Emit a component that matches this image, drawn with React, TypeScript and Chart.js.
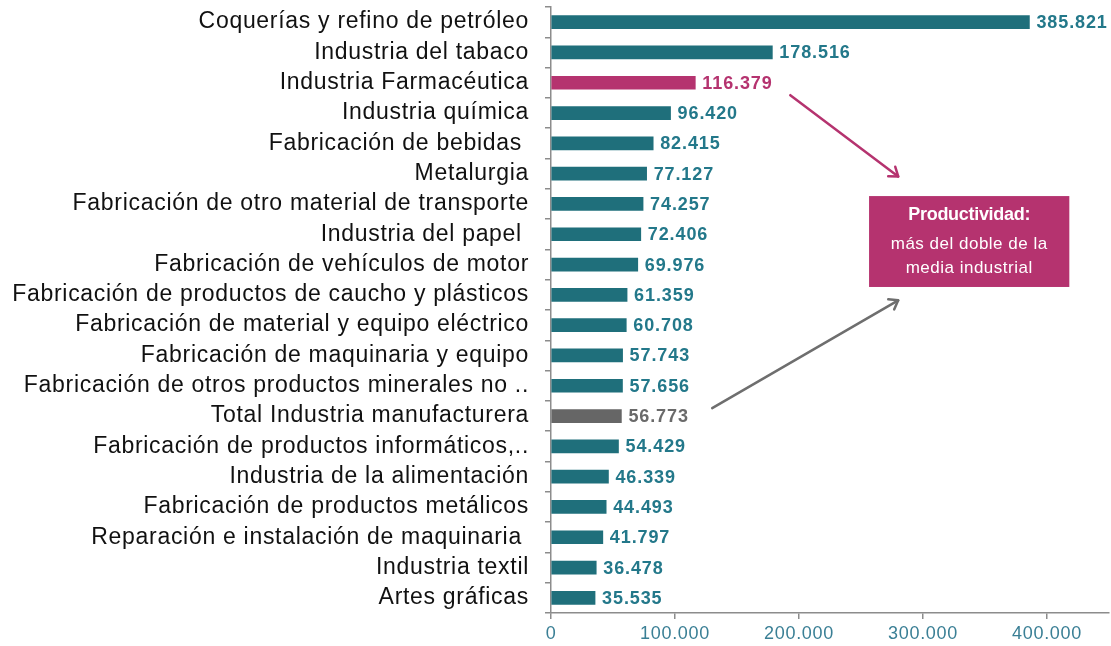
import React, { useEffect, useRef } from "react";
import { Chart, registerables } from "chart.js";

Chart.register(...registerables);

const categories = [
  "Coquerías y refino de petróleo",
  "Industria del tabaco",
  "Industria Farmacéutica",
  "Industria química",
  "Fabricación de bebidas ",
  "Metalurgia",
  "Fabricación de otro material de transporte",
  "Industria del papel ",
  "Fabricación de vehículos de motor",
  "Fabricación de productos de caucho y plásticos",
  "Fabricación de material y equipo eléctrico",
  "Fabricación de maquinaria y equipo",
  "Fabricación de otros productos minerales no ..",
  "Total Industria manufacturera",
  "Fabricación de productos informáticos,..",
  "Industria de la alimentación",
  "Fabricación de productos metálicos",
  "Reparación e instalación de maquinaria ",
  "Industria textil",
  "Artes gráficas",
];

const values = [
  385821, 178516, 116379, 96420, 82415, 77127, 74257, 72406, 69976, 61359,
  60708, 57743, 57656, 56773, 54429, 46339, 44493, 41797, 36478, 35535,
];

const xTicks = [0, 100000, 200000, 300000, 400000];

const TEAL = "#1F6F7B";
const TEAL_TEXT = "#23788A";
const PINK = "#B5336F";
const GREY = "#666666";

const barColors = categories.map((c) =>
  c === "Industria Farmacéutica" ? PINK : c.startsWith("Total") ? GREY : TEAL
);
const labelColors = categories.map((c) =>
  c === "Industria Farmacéutica" ? PINK : c.startsWith("Total") ? "#6A6A6A" : TEAL_TEXT
);

const fmt = (v: number) => Math.round(v).toString().replace(/\B(?=(\d{3})+(?!\d))/g, ".");

// annotation anchors (value space: x in data units, y in category index)
const boxAnchor = { x0: 256500, x1: 418000, y0: 5.74, y1: 8.74 };
const boxLines = ["Productividad:", "más del doble de la", "media industrial"];
const arrows = [
  { color: PINK, from: [193000, 2.41], to: [280000, 5.09] },
  { color: "#6E6E6E", from: [130000, 12.74], to: [280000, 9.18] },
];

const annotationPlugin = {
  id: "annot",
  beforeDraw(chart: any) {
    (chart.ctx as any).letterSpacing = "0.7px";
  },
  afterDatasetsDraw(chart: any) {
    const ctx = chart.ctx;
    const xs = chart.scales.x;
    const ys = chart.scales.y;
    const meta = chart.getDatasetMeta(0);
    ctx.save();
    (ctx as any).letterSpacing = "0.9px";
    ctx.font = "bold 18px 'Liberation Sans', Arial, sans-serif";
    ctx.textBaseline = "middle";
    ctx.textAlign = "left";
    meta.data.forEach((bar: any, i: number) => {
      ctx.fillStyle = labelColors[i];
      ctx.fillText(fmt(values[i]), bar.x + 7, bar.y + 1);
    });

    // box
    const bx0 = xs.getPixelForValue(boxAnchor.x0);
    const bx1 = xs.getPixelForValue(boxAnchor.x1);
    const by0 = ys.getPixelForValue(boxAnchor.y0);
    const by1 = ys.getPixelForValue(boxAnchor.y1);
    ctx.fillStyle = PINK;
    ctx.fillRect(bx0, by0, bx1 - bx0, by1 - by0);
    ctx.fillStyle = "#FFFFFF";
    ctx.textAlign = "center";
    const cx = (bx0 + bx1) / 2;
    (ctx as any).letterSpacing = "-0.3px";
    ctx.font = "bold 18px 'Liberation Sans', Arial, sans-serif";
    ctx.fillText(boxLines[0], cx, by0 + 19);
    ctx.font = "17px 'Liberation Sans', Arial, sans-serif";
    (ctx as any).letterSpacing = "0.5px";
    ctx.fillText(boxLines[1], cx, by0 + 48);
    ctx.fillText(boxLines[2], cx, by0 + 72);

    // arrows
    arrows.forEach((a) => {
      const x0 = xs.getPixelForValue(a.from[0]);
      const y0 = ys.getPixelForValue(a.from[1]);
      const x1 = xs.getPixelForValue(a.to[0]);
      const y1 = ys.getPixelForValue(a.to[1]);
      ctx.strokeStyle = a.color;
      ctx.lineWidth = 2.5;
      ctx.lineCap = "round";
      ctx.lineJoin = "round";
      ctx.beginPath();
      ctx.moveTo(x0, y0);
      ctx.lineTo(x1, y1);
      ctx.stroke();
      const ang = Math.atan2(y1 - y0, x1 - x0);
      const L = 10;
      const spread = Math.PI / 5;
      ctx.beginPath();
      ctx.moveTo(x1 - L * Math.cos(ang - spread), y1 - L * Math.sin(ang - spread));
      ctx.lineTo(x1, y1);
      ctx.lineTo(x1 - L * Math.cos(ang + spread), y1 - L * Math.sin(ang + spread));
      ctx.stroke();
    });
    ctx.restore();
  },
};

export default function App() {
  const ref = useRef<HTMLCanvasElement | null>(null);
  useEffect(() => {
    if (!ref.current) return;
    const chart = new Chart(ref.current, {
      type: "bar",
      data: {
        labels: categories,
        datasets: [
          {
            data: values,
            backgroundColor: barColors,
            barThickness: 13,
          },
        ],
      },
      plugins: [annotationPlugin],
      options: {
        indexAxis: "y",
        animation: false,
        responsive: false,
        maintainAspectRatio: false,
        layout: { padding: { top: 7, right: 2, left: 0, bottom: 0 } },
        plugins: { legend: { display: false }, tooltip: { enabled: false } },
        scales: {
          x: {
            type: "linear",
            min: 0,
            max: 450000,
            afterBuildTicks: (scale: any) => {
              scale.ticks = xTicks.map((v) => ({ value: v }));
            },
            afterFit: (scale: any) => {
              scale.height = 33;
              scale.paddingLeft = 0;
              scale.paddingRight = 0;
            },
            grid: { drawOnChartArea: false, tickLength: 6, color: "#8C8C8C", lineWidth: 1.5 },
            border: { color: "#8C8C8C", width: 1.5 },
            ticks: {
              color: "#3A7F95",
              font: { family: "'Liberation Sans', Arial, sans-serif", size: 18 },
              padding: 4,
              maxRotation: 0,
              callback: (v: any) => fmt(Number(v)),
            },
          },
          y: {
            type: "category",
            afterFit: (scale: any) => {
              scale.width = 551;
              scale.paddingTop = 0;
              scale.paddingBottom = 0;
            },
            grid: { offset: true, drawOnChartArea: false, tickLength: 6, color: "#8C8C8C", lineWidth: 1.5 },
            border: { color: "#8C8C8C", width: 1.5 },
            ticks: {
              color: "#111111",
              font: { family: "'Liberation Sans', Arial, sans-serif", size: 23 },
              padding: 16,
              autoSkip: false,
            },
          },
        },
      } as any,
    });
    return () => chart.destroy();
  }, []);
  return (
    <div style={{ position: "fixed", left: 0, top: 0, width: 1111, height: 646, background: "#fff" }}>
      <canvas ref={ref} width={1111} height={646} style={{ display: "block" }} />
    </div>
  );
}
